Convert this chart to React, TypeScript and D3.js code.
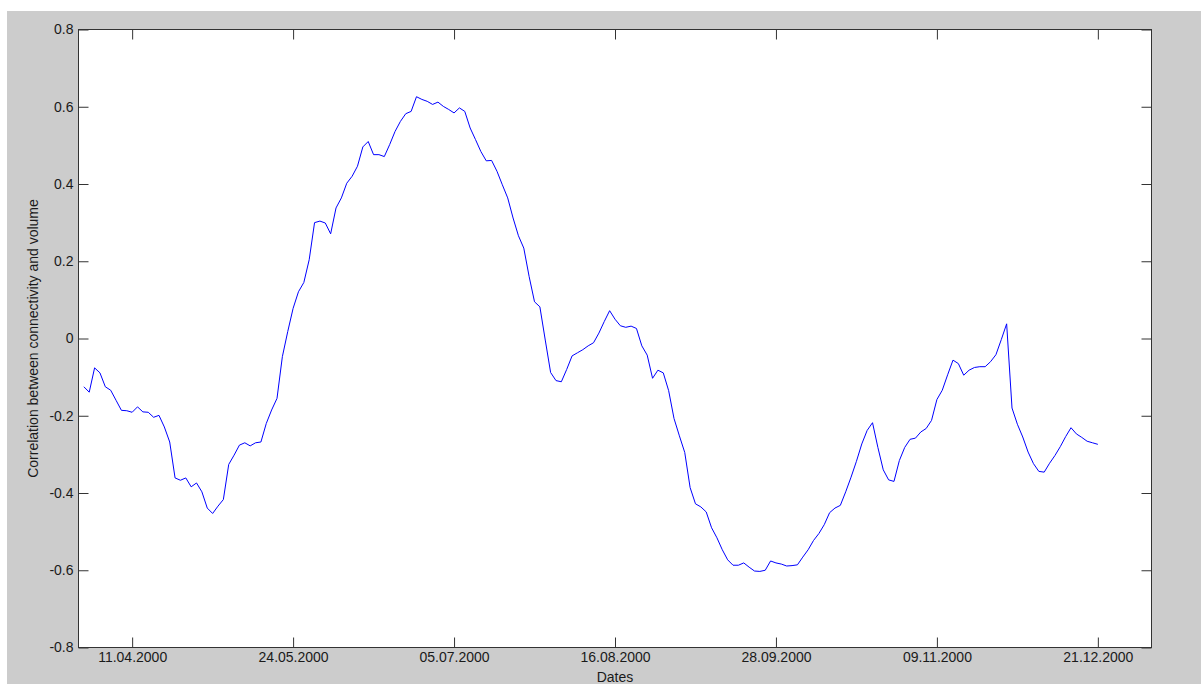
import React, { useEffect, useRef } from 'react';
import * as d3 from 'd3';

// one value per trading day, index 1..190
const correlation: number[] = [
  -0.125, -0.139, -0.076, -0.089, -0.125, -0.134, -0.16, -0.186, -0.187, -0.191,
  -0.177, -0.19, -0.191, -0.204, -0.199, -0.229, -0.268, -0.361, -0.367, -0.361,
  -0.384, -0.374, -0.397, -0.439, -0.453, -0.434, -0.417, -0.326, -0.302, -0.276,
  -0.27, -0.278, -0.27, -0.268, -0.22, -0.185, -0.155, -0.047, 0.018, 0.078,
  0.121, 0.145, 0.204, 0.3, 0.304, 0.299, 0.271, 0.338, 0.364, 0.402,
  0.42, 0.446, 0.496, 0.51, 0.476, 0.476, 0.471, 0.502, 0.536, 0.562,
  0.582, 0.588, 0.626, 0.619, 0.614, 0.606, 0.612, 0.601, 0.593, 0.584,
  0.597, 0.588, 0.545, 0.515, 0.484, 0.46, 0.461, 0.433, 0.398, 0.364,
  0.312, 0.266, 0.234, 0.16, 0.095, 0.082, -0.004, -0.088, -0.109, -0.112,
  -0.08, -0.045, -0.037, -0.029, -0.019, -0.011, 0.014, 0.044, 0.072, 0.05,
  0.033, 0.029, 0.032, 0.026, -0.019, -0.043, -0.103, -0.082, -0.089, -0.135,
  -0.207, -0.252, -0.295, -0.386, -0.428, -0.436, -0.449, -0.49, -0.516, -0.547,
  -0.573, -0.587, -0.587, -0.581, -0.592, -0.602, -0.603, -0.6, -0.576, -0.581,
  -0.584, -0.589, -0.588, -0.586, -0.566, -0.547, -0.523, -0.505, -0.482, -0.451,
  -0.439, -0.432, -0.397, -0.359, -0.318, -0.273, -0.238, -0.218, -0.282, -0.34,
  -0.366, -0.37, -0.316, -0.282, -0.261, -0.258, -0.242, -0.233, -0.212, -0.158,
  -0.134, -0.094, -0.056, -0.065, -0.095, -0.082, -0.075, -0.073, -0.073, -0.06,
  -0.042, -0.003, 0.038, -0.18, -0.222, -0.255, -0.294, -0.324, -0.344, -0.346,
  -0.323, -0.303, -0.28, -0.254, -0.231, -0.247, -0.256, -0.266, -0.27, -0.274,
];

const xTickIndex = [10, 40, 70, 100, 130, 160, 190];
const xTickLabels = ['11.04.2000', '24.05.2000', '05.07.2000', '16.08.2000', '28.09.2000', '09.11.2000', '21.12.2000'];
const yTicks = [0.8, 0.6, 0.4, 0.2, 0, -0.2, -0.4, -0.6, -0.8];
const yTickLabels = ['0.8', '0.6', '0.4', '0.2', '0', '-0.2', '-0.4', '-0.6', '-0.8'];

const FONT = '"Liberation Sans", Arial, sans-serif';

export default function App() {
  const svgRef = useRef<SVGSVGElement>(null);

  useEffect(() => {
    if (!svgRef.current) return;
    const svg = d3.select(svgRef.current);
    svg.selectAll('*').remove();

    const width = 1201;
    const height = 684;
    const box = { left: 78.5, right: 1151.5, top: 29.5, bottom: 647.5 };

    // figure background
    svg.append('rect').attr('width', width).attr('height', height).attr('fill', '#ffffff');
    svg.append('rect').attr('x', 7).attr('y', 11).attr('width', width - 7).attr('height', height - 11).attr('fill', '#cccccc');

    const x = d3.scaleLinear().domain([0, 200]).range([box.left, box.right]);
    const y = d3.scaleLinear().domain([-0.8, 0.8]).range([box.bottom, box.top]);

    // axes area
    svg.append('rect')
      .attr('x', box.left).attr('y', box.top)
      .attr('width', box.right - box.left).attr('height', box.bottom - box.top)
      .attr('fill', '#ffffff');

    // line
    const line = d3.line<number>()
      .x((_, i) => x(i + 1))
      .y((d) => y(d));
    svg.append('path')
      .datum(correlation)
      .attr('fill', 'none')
      .attr('stroke', '#0000ff')
      .attr('stroke-width', 1)
      .attr('d', line);

    const styleAxis = (g: d3.Selection<SVGGElement, unknown, null, undefined>) => {
      g.select('.domain').remove();
      g.selectAll('line').attr('stroke', '#333333');
      g.selectAll('text').attr('fill', '#1a1a1a').style('font-family', FONT).style('font-size', '14px');
    };

    const xb = svg.append('g').attr('transform', `translate(0,${box.bottom})`)
      .call(d3.axisBottom(x).tickValues(xTickIndex).tickSize(-10).tickPadding(5)
        .tickFormat((_, i) => xTickLabels[i]));
    styleAxis(xb);
    const xt = svg.append('g').attr('transform', `translate(0,${box.top})`)
      .call(d3.axisTop(x).tickValues(xTickIndex).tickSize(-10).tickFormat(() => ''));
    styleAxis(xt);

    const yl = svg.append('g').attr('transform', `translate(${box.left},0)`)
      .call(d3.axisLeft(y).tickValues(yTicks).tickSize(-10).tickPadding(5)
        .tickFormat((_, i) => yTickLabels[i]));
    styleAxis(yl);
    const yr = svg.append('g').attr('transform', `translate(${box.right},0)`)
      .call(d3.axisRight(y).tickValues(yTicks).tickSize(-10).tickFormat(() => ''));
    styleAxis(yr);

    // box
    svg.append('rect')
      .attr('x', box.left).attr('y', box.top)
      .attr('width', box.right - box.left).attr('height', box.bottom - box.top)
      .attr('fill', 'none').attr('stroke', '#333333').attr('stroke-width', 1);

    // axis labels
    svg.append('text')
      .attr('x', (box.left + box.right) / 2).attr('y', 682)
      .attr('text-anchor', 'middle')
      .attr('fill', '#1a1a1a')
      .style('font-family', FONT).style('font-size', '14px')
      .text('Dates');
    svg.append('text')
      .attr('transform', `translate(38,${(box.top + box.bottom) / 2}) rotate(-90)`)
      .attr('text-anchor', 'middle')
      .attr('fill', '#1a1a1a')
      .style('font-family', FONT).style('font-size', '14px')
      .text('Correlation between connectivity and volume');
  }, []);

  return (
    <div>
      <style>{'body{margin:0;}'}</style>
      <svg ref={svgRef} width={1201} height={684} style={{ display: 'block' }} />
    </div>
  );
}
